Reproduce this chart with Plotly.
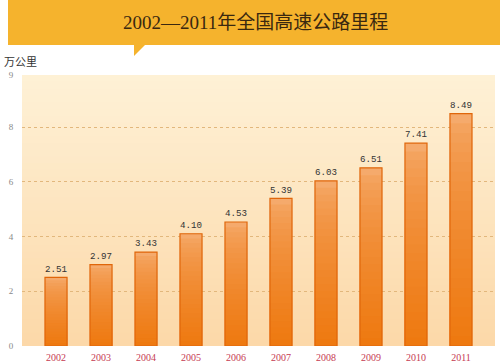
import plotly.graph_objects as go

years = ["2002", "2003", "2004", "2005", "2006", "2007", "2008", "2009", "2010", "2011"]
mileage = [2.51, 2.97, 3.43, 4.10, 4.53, 5.39, 6.03, 6.51, 7.41, 8.49]
y_tickvals = [0, 2, 4, 6, 8, 9.9]
y_ticktext = ["0", "2", "4", "6", "8", "9"]
title_text = "2002—2011年全国高速公路里程"
unit_text = "万公里"

W, H = 500, 363
L, R, T, B = 22, 5, 75, 17
PW, PH = W - L - R, H - T - B


def px(x):
    return (x - L) / PW


def py(y):
    return (H - B - y) / PH


def lerp(c1, c2, t):
    return "rgb(%d,%d,%d)" % tuple(round(a + (b - a) * t) for a, b in zip(c1, c2))


fig = go.Figure()

# bar gradient via overlapping bars (tallest first, shorter/darker on top)
N = 24
top_c = (245, 170, 108)
bot_c = (238, 120, 14)
for k in range(N):
    frac_top = 1 - k / N
    t = k / N
    col = lerp(top_c, bot_c, min(1, t ** 0.6))
    fig.add_trace(go.Bar(
        x=years, y=[v * frac_top for v in mileage],
        marker=dict(color=col, line=dict(width=0)), width=0.49,
        hoverinfo="skip", showlegend=False))

# outline + labels
fig.add_trace(go.Bar(
    x=years, y=mileage, width=0.49,
    marker=dict(color="rgba(0,0,0,0)", line=dict(color="#E0660A", width=1.2)),
    text=[f"{v:.2f}" for v in mileage], textposition="outside",
    textfont=dict(family="Liberation Mono", size=10, color="#333333"),
    cliponaxis=False, showlegend=False))

shapes = []
# background gradient (overlapping bands to avoid seams)
NB = 40
bg_top = (254, 241, 214)
bg_bot = (252, 216, 168)
for i in range(NB):
    shapes.append(dict(type="rect", xref="paper", yref="paper",
                       x0=0, x1=1, y0=0, y1=1 - i / NB,
                       fillcolor=lerp(bg_top, bg_bot, (i + 0.5) / NB),
                       line=dict(width=0), layer="below"))
# title banner
shapes.append(dict(type="rect", xref="paper", yref="paper",
                   x0=px(8), x1=px(501), y0=py(45), y1=py(-1),
                   fillcolor="#F5B32D", line=dict(width=0), layer="above"))
shapes.append(dict(type="path", xref="paper", yref="paper",
                   path=f"M {px(134)},{py(44)} L {px(146)},{py(44)} L {px(134)},{py(56)} Z",
                   fillcolor="#F5B32D", line=dict(width=0), layer="above"))

fig.update_layout(
    width=W, height=H, margin=dict(l=L, r=R, t=T, b=B, autoexpand=False),
    paper_bgcolor="white", plot_bgcolor="rgba(0,0,0,0)",
    barmode="overlay", shapes=shapes,
    xaxis=dict(type="category", range=[-0.756, 9.756], showgrid=False, zeroline=False,
               showline=False, ticks="outside", ticklen=2, tickcolor="rgba(0,0,0,0)",
               automargin=False,
               tickfont=dict(family="Liberation Serif", size=10, color="#C63C52")),
    yaxis=dict(range=[0, 9.9], tickvals=y_tickvals, ticktext=y_ticktext,
               showgrid=True, gridcolor="#E2B77C", griddash="dot", gridwidth=1,
               zeroline=False, showline=False, ticks="outside", ticklen=6,
               tickcolor="rgba(0,0,0,0)", automargin=False,
               tickfont=dict(family="Liberation Serif", size=9, color="#888888")),
    annotations=[
        dict(text=title_text, xref="paper", yref="paper", x=px(255), y=py(23),
             showarrow=False, xanchor="center", yanchor="middle",
             font=dict(family="Liberation Serif, Noto Sans CJK SC", size=19, color="#3A2810")),
        dict(text=unit_text, xref="paper", yref="paper", x=px(2), y=py(61),
             showarrow=False, xanchor="left", yanchor="middle",
             font=dict(family="Noto Sans CJK SC", size=11, color="#333333")),
    ],
)

fig.write_html("out.html", config={"displayModeBar": False},
               post_script="document.body.style.margin='0';document.body.style.overflow='hidden';")
